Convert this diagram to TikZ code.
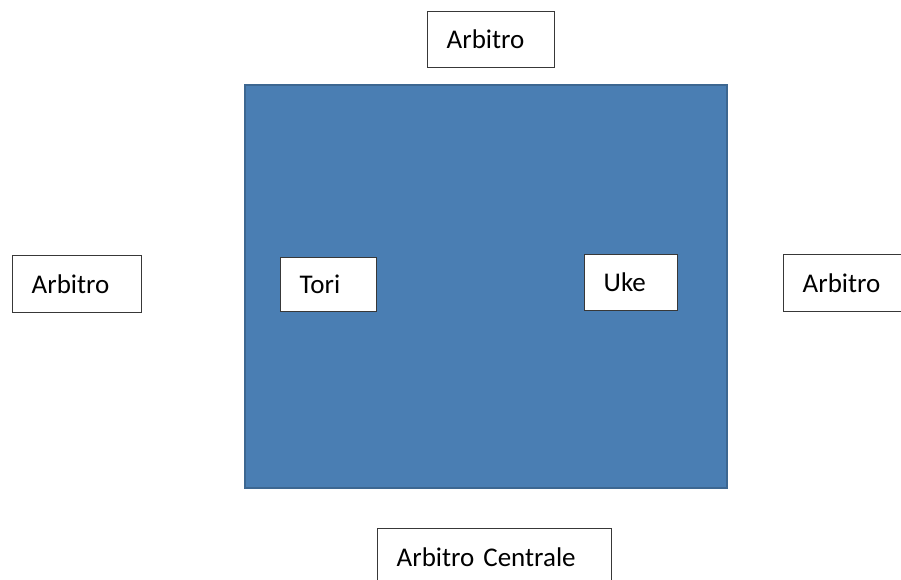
\documentclass[tikz,border=0pt]{standalone}
\usepackage{fontspec}
\setmainfont{Carlito}
\definecolor{matblue}{HTML}{4A7EB3}
\definecolor{matedge}{HTML}{3D6791}
\definecolor{boxedge}{HTML}{383838}
\tikzset{
  lbl/.style={draw=boxedge, line width=1.4pt, fill=white, inner xsep=19pt, inner ysep=0pt,
    font=\fontsize{27}{30}\selectfont, align=left, anchor=north west, text height=18pt, text depth=0pt},
}
\begin{document}
\begin{tikzpicture}[x=1pt,y=-1pt]
\useasboundingbox (0,0) rectangle (901,579);
\fill[white] (0,0) rectangle (901,579);
\draw[fill=matblue, draw=matedge, line width=1.2pt] (245,85) rectangle (727,488);
\node[lbl, text width=89pt, minimum height=56pt] (top) at (427,11) {Arbitro};
\node[lbl, text width=91pt, minimum height=57pt] (left) at (12,255) {Arbitro};
\node[lbl, text width=58pt, minimum height=54pt] (tori) at (280,257) {Tori};
\node[lbl, text width=55pt, minimum height=56pt] (uke) at (584,254) {Uke};
\node[lbl, text width=90pt, minimum height=57pt] (right) at (783,254) {Arbitro};
\node[lbl, text width=196pt, minimum height=60pt, text height=16pt] (bottom) at (377,528) {Arbitro Centrale};
\end{tikzpicture}
\end{document}
